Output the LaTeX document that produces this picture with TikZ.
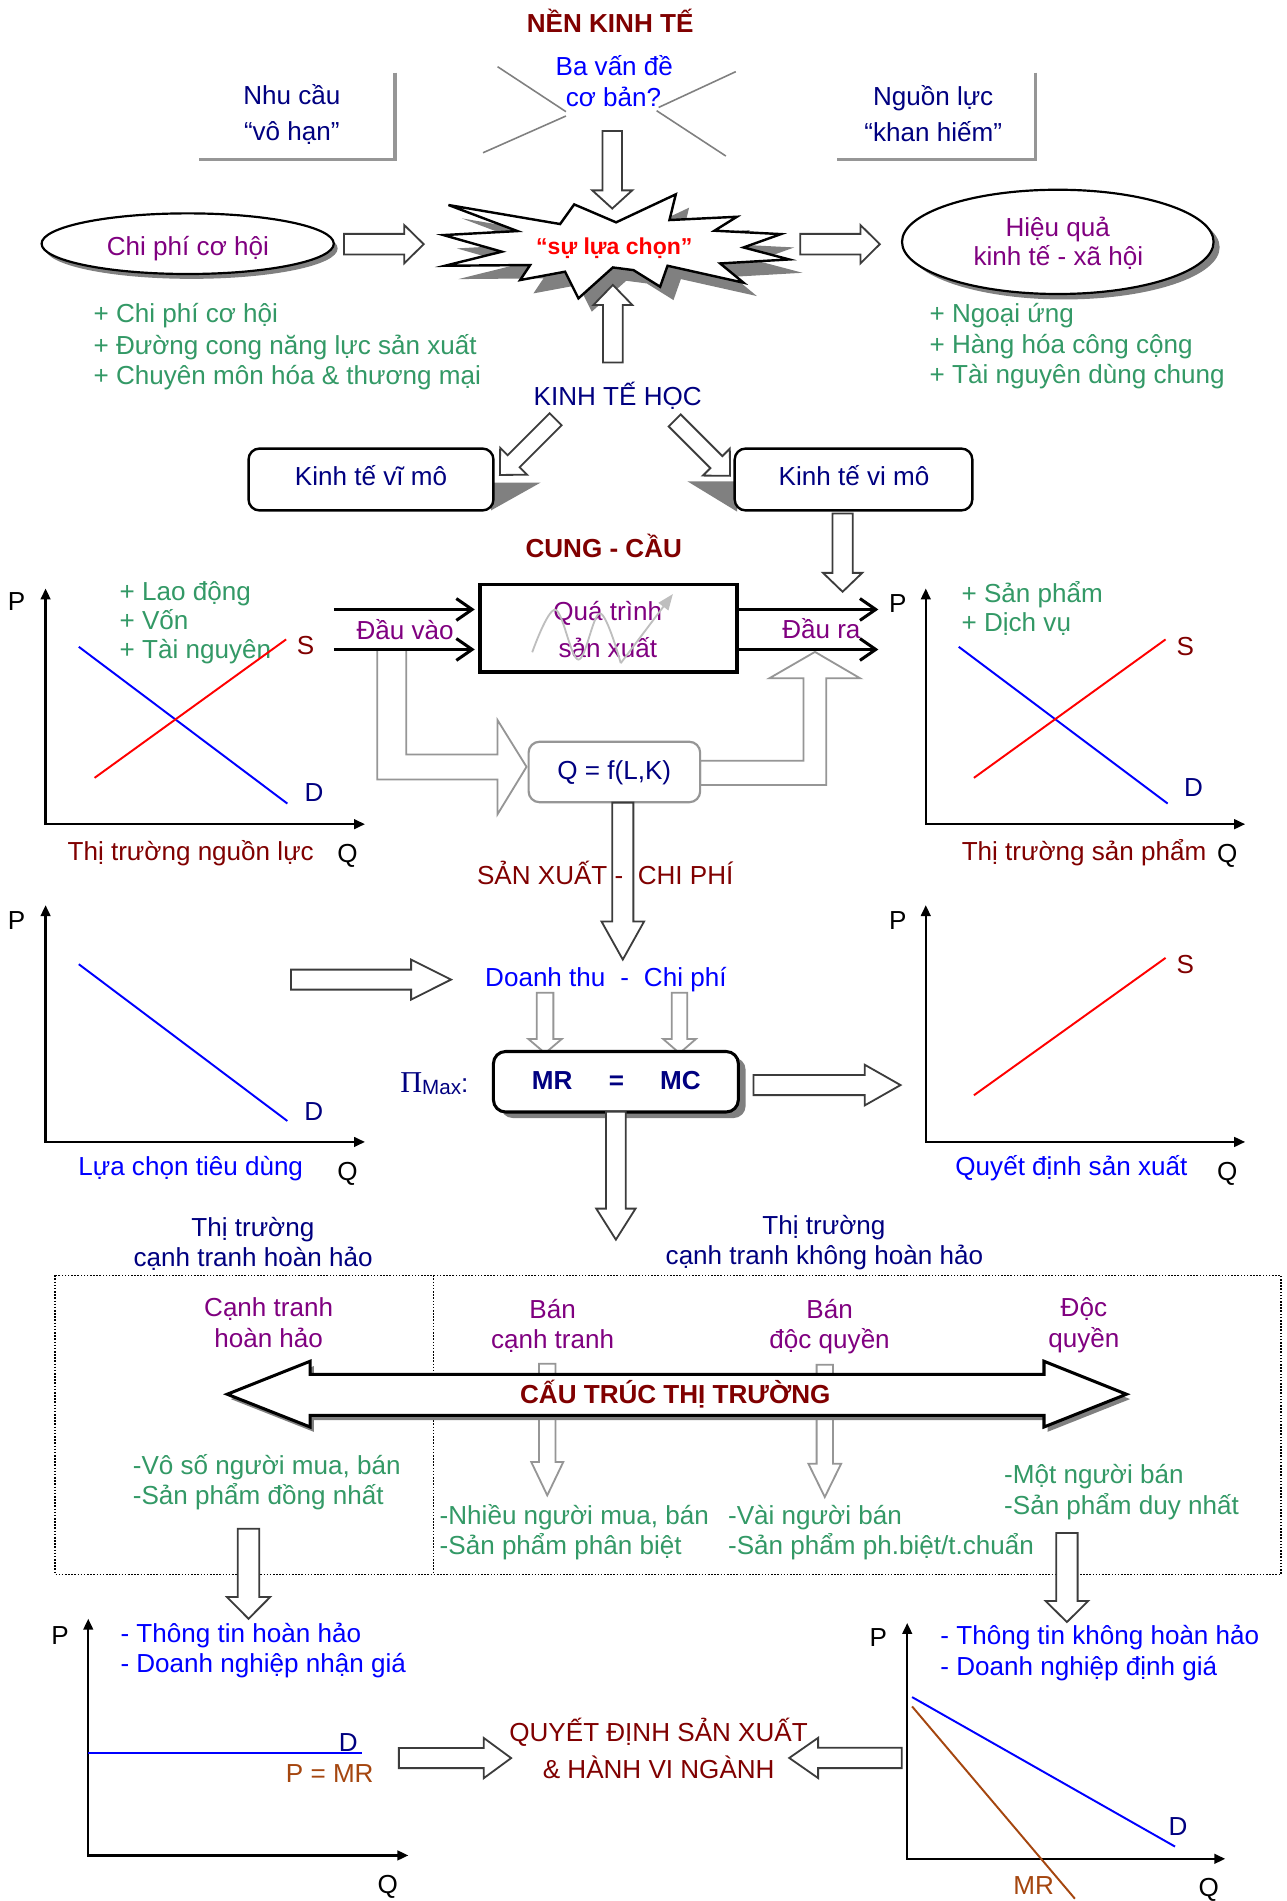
\documentclass[tikz,border=0pt]{standalone}
\usepackage{fontspec}
\setmainfont{Liberation Sans}
\newfontfamily\seriff{Liberation Serif}
\usetikzlibrary{arrows.meta}
\definecolor{navy}{RGB}{0,0,128}
\definecolor{tblue}{RGB}{0,0,255}
\definecolor{purp}{RGB}{128,0,128}
\definecolor{dred}{RGB}{128,0,0}
\definecolor{tgreen}{RGB}{51,153,102}
\definecolor{brn}{RGB}{165,70,15}
\definecolor{shd}{RGB}{128,128,128}
\definecolor{dgr}{RGB}{60,60,60}
\definecolor{lgr}{RGB}{150,150,150}
\definecolor{vlgr}{RGB}{190,190,190}
\newcommand\fs{\fontsize{21.5}{25}\selectfont}
% #1 style, #2 start, #3 angle, #4 length, #5 shaft half width, #6 head half width, #7 head length
\newcommand\barrow[7]{\begin{scope}[shift={#2},rotate=#3]\path[#1] (0,-#5) -- ({#4-#7},-#5) -- ({#4-#7},-#6) -- (#4,0) -- ({#4-#7},#6) -- ({#4-#7},#5) -- (0,#5) -- cycle;\end{scope}}
\newcommand\starshape[1]{\path[#1] (369.9,169.1) -- (462,184.8) -- (473.6,168.6) -- (508.2,183.4) -- (557.4,160.3) -- (552.2,181.5) -- (607.8,178.8) -- (589.3,190.3) -- (644.1,193.1) -- (613.3,204.1) -- (650.9,214) -- (594,217.3) -- (613.3,233.2) -- (550.6,219.2) -- (544.5,236.5) -- (522.5,222.8) -- (505.5,220.6) -- (477.1,246.1) -- (466.1,224.1) -- (429,231) -- (437.3,218.6) -- (367.1,219.2) -- (413.9,207.6) -- (365.8,193.9) -- (426.8,190.6) -- cycle;}
\newcommand\dblarrow[1]{\path[#1] (187.4,1150) -- (255.8,1122.8) -- (255.8,1133.6) -- (861.1,1133.6) -- (861.1,1122.8) -- (929.1,1150) -- (861.1,1177) -- (861.1,1167.4) -- (255.8,1167.4) -- (255.8,1177) -- cycle;}
\begin{document}
\begin{tikzpicture}[x=1pt,y=-1pt,
 txt/.style={inner sep=0pt, anchor=base, yshift=-7.5pt, font=\fs},
 txtl/.style={txt, anchor=base west},
 darr/.style={draw=dgr, fill=white, line width=1.5pt, line join=miter},
 garr/.style={draw=lgr, fill=white, line width=1.5pt, line join=miter},
 axs/.style={line width=1.8pt, line join=miter, {Triangle[length=9pt,width=8pt]}-{Triangle[length=9pt,width=8pt]}},
 linearr/.style={line width=2.5pt, -{Straight Barb[length=13pt,width=18pt]}},
 curveD/.style={tblue, line width=1.6pt},
 curveS/.style={red, line width=1.6pt},
 rbox/.style={draw=black, fill=white, line width=2pt, rounded corners=9pt},
 dotbox/.style={line width=1.3pt, dash pattern=on 1.3pt off 1.3pt},
]
\useasboundingbox (0,0) rectangle (1061,1568);
\fill[white] (0,0) rectangle (1061,1568);

% ---------- top ----------
\node[txt, font=\fs\bfseries, text=dred] (nenkt) at (503.3,19.3) {NỀN KINH TẾ};
\node[txt, text=tblue] (ba1) at (506.7,55) {Ba vấn đề};
\node[txt, text=tblue] (ba2) at (506,80.3) {cơ bản?};
\draw[shd, line width=1.3pt] (410.4,55) -- (466.8,92.1) (466.8,95.7) -- (398.4,126);
\draw[shd, line width=1.3pt] (606.9,59.1) -- (543.3,88.6) (541.6,91.3) -- (598.7,128.7);
\node[txt, text=navy] (nc1) at (240.7,78.4) {Nhu cầu};
\node[txt, text=navy] (nc2) at (240.7,108.6) {“vô hạn”};
\draw[lgr, line width=3pt] (326,60) -- (326,131.5) -- (164,131.5);
\node[txt, text=navy] (nl1) at (769.7,79.2) {Nguồn lực};
\node[txt, text=navy] (nl2) at (769.7,109.5) {“khan hiếm”};
\draw[lgr, line width=3pt] (854,60) -- (854,131.5) -- (690,131.5);

% starburst
\starshape{fill=shd, shift={(11,11)}}
\starshape{draw=black, fill=white, line width=2pt, line join=miter}
\node[inner sep=0pt, anchor=base, font=\fontsize{19}{21}\selectfont\bfseries, text=red] (choice) at (506.7,210.2) {“sự lựa chọn”};
\barrow{darr}{(505,108)}{-90}{64}{8}{16.5}{15}
\barrow{darr}{(505.5,299)}{90}{64}{8.2}{16}{16.5}

% ellipses
\fill[shd] (158,205) ellipse [x radius=120.5, y radius=25];
\draw[line width=1.8pt, fill=white] (154.8,201) ellipse [x radius=120.5, y radius=25];
\node[txt, text=purp] (cpch) at (155,203) {Chi phí cơ hội};
\fill[shd] (877.5,204) ellipse [x radius=128.5, y radius=43];
\draw[line width=1.8pt, fill=white] (872.5,199.5) ellipse [x radius=128.5, y radius=43];
\node[txt, text=purp] (hq1) at (872.5,187.8) {Hiệu quả};
\node[txt, text=purp] (hq2) at (873,211.7) {kinh tế - xã hội};
\barrow{darr}{(283.8,201.4)}{0}{65.7}{8.5}{15.8}{16.1}
\barrow{darr}{(660,201.4)}{0}{65.7}{8.5}{15.8}{16}

\node[txtl, text=tgreen] (l1) at (77,258.5) {+ Chi phí cơ hội};
\node[txtl, text=tgreen] (l2) at (77,284.6) {+ Đường cong năng lực sản xuất};
\node[txtl, text=tgreen] (l3) at (77,309.4) {+ Chuyên môn hóa \& thương mại};
\node[txtl, text=tgreen] (r1) at (766.6,258.5) {+ Ngoại ứng};
\node[txtl, text=tgreen] (r2) at (766.6,284.2) {+ Hàng hóa công cộng};
\node[txtl, text=tgreen] (r3) at (766.6,308.9) {+ Tài nguyên dùng chung};

% ---------- kinh te hoc ----------
\node[txt, text=navy] (kth) at (509.5,327) {KINH TẾ HỌC};
\barrow{darr}{(458.3,345.8)}{-135}{65}{7}{15.7}{16}
\barrow{darr}{(556.5,346.8)}{-45}{64.6}{7}{15.7}{16}
\fill[shd] (405,398) -- (446,398) -- (405,421) -- cycle;
\fill[shd] (567,397) -- (608,397) -- (608,422) -- cycle;
\draw[rbox] (205,370) rectangle (407,421);
\node[txt, text=navy] (vimac) at (306,393.3) {Kinh tế vĩ mô};
\draw[rbox] (606,370) rectangle (802,421);
\node[txt, text=navy] (vimic) at (704.4,393.3) {Kinh tế vi mô};
\barrow{darr}{(695,423.5)}{-90}{64.6}{8.3}{16.2}{15.6}
\node[txt, font=\fs\bfseries, text=dred] (cungcau) at (498,452) {CUNG - CẦU};

% ---------- resource market graph ----------
\node[txtl, text=tgreen] (ld1) at (98.5,488) {+ Lao động};
\node[txtl, text=tgreen] (ld2) at (98.5,512) {+ Vốn};
\node[txtl, text=tgreen] (ld3) at (98.5,536) {+ Tài nguyên};
\draw[axs] (37.6,485.4) -- (37.6,679.8) -- (301,679.8);
\draw[curveD] (65,533.5) -- (237,662.8);
\draw[curveS] (78,641.6) -- (236,527.4);
\node[txt] (p1) at (13.7,496.4) {P};
\node[txt] (q1) at (286.6,704) {Q};
\node[txt, text=dred] (s1) at (252,532) {S};
\node[txt, text=navy] (d1) at (259,654) {D};
\node[txt, text=dred] (tt1) at (157.3,702.6) {Thị trường nguồn lực};

% ---------- product market graph ----------
\node[txtl, text=tgreen] (sp1) at (793,489.5) {+ Sản phẩm};
\node[txtl, text=tgreen] (sp2) at (793,513.7) {+ Dịch vụ};
\draw[axs] (763.6,485.4) -- (763.6,679.8) -- (1027,679.8);
\draw[curveD] (790.8,533.5) -- (963.1,662.8);
\draw[curveS] (803.3,641.6) -- (961.4,527.4);
\node[txt] (p2) at (740.5,497.8) {P};
\node[txt] (q2) at (1012.3,704) {Q};
\node[txt, text=dred] (s2) at (977.6,533) {S};
\node[txt, text=navy] (d2) at (984.5,649.8) {D};
\node[txt, text=dred] (tt2) at (894.2,702.6) {Thị trường sản phẩm};

% ---------- production ----------
\draw[garr] (311.2,535.7) -- (335.1,535.7) -- (335.1,622.3) -- (410.4,622.3) -- (410.4,594) -- (434.3,632.5) -- (410.4,671.6) -- (410.4,643) -- (311.2,643) -- cycle;
\draw[garr] (577.5,627.5) -- (662.8,627.5) -- (662.8,559.5) -- (634.5,559.5) -- (672.2,537.7) -- (709.5,559.5) -- (681.5,559.5) -- (681.5,647.5) -- (577.5,647.5) -- cycle;
\draw[line width=3pt, fill=white] (396,482) rectangle (607.8,554.5);
\node[txt, text=purp] (qt1) at (501.3,504.6) {Quá trình};
\node[txt, text=purp] (qt2) at (501.3,534.9) {sản xuất};
\draw[vlgr, line width=1.5pt] plot[smooth, tension=0.6] coordinates {(439,538) (458,503) (477,544) (495,506) (512,547)};
\draw[vlgr, line width=1.5pt, -{Triangle[length=13pt,width=10pt]}] (512,547) -- (555,490);
\draw[linearr] (275.3,502.7) -- (391.6,502.7);
\draw[linearr] (275.3,535.7) -- (391.6,535.7);
\draw[linearr] (607.8,502.7) -- (724.5,502.7);
\draw[linearr] (607.8,535.7) -- (724.5,535.7);
\node[txt, text=purp] (dv) at (334.2,519.8) {Đầu vào};
\node[txt, text=purp] (dr) at (677.5,519.2) {Đầu ra};
\draw[draw=lgr, fill=white, line width=1.8pt, rounded corners=9pt] (436,611.8) rectangle (577.5,661.7);
\node[txt, text=navy] (qf) at (506.7,635.3) {Q = f(L,K)};

\barrow{darr}{(513.7,662)}{-90}{129.5}{8.7}{17.6}{31.5}
\node[txtl, text=dred] (sxcp) at (393.3,722) {SẢN XUẤT -\ \ CHI PHÍ};

% ---------- consumer graph ----------
\draw[axs] (37.6,746.6) -- (37.6,941.9) -- (301,941.9);
\draw[curveD] (65,795.3) -- (237,924.6);
\node[txt, text=navy] (d3) at (258.9,916.3) {D};
\node[txt] (p3) at (13.7,759) {P};
\node[txt] (q3) at (286.6,966.6) {Q};
\node[txt, text=tblue] (lctd) at (157.3,962) {Lựa chọn tiêu dùng};

% ---------- producer graph ----------
\draw[axs] (763.6,746.6) -- (763.6,941.9) -- (1027,941.9);
\draw[curveS] (803.3,903.4) -- (961.4,790.1);
\node[txt, text=dred] (s4) at (977.6,795.3) {S};
\node[txt] (p4) at (740.5,759) {P};
\node[txt] (q4) at (1012.3,966.6) {Q};
\node[txt, text=tblue] (qdsx) at (883.7,962) {Quyết định sản xuất};

% ---------- revenue / cost ----------
\node[txtl, text=tblue] (dtcp) at (400,806) {Doanh thu\hspace{12.3pt}-\hspace{12.3pt}Chi phí};
\barrow{garr}{(449.6,818.8)}{-90}{49.9}{6.85}{13.75}{11.7}
\barrow{garr}{(560.5,818.8)}{-90}{49.9}{6.4}{13.5}{11.7}
\fill[shd, rounded corners=10pt] (413,872.3) rectangle (615,922.2);
\draw[rbox, line width=2.5pt, rounded corners=10pt] (407,867.3) rectangle (609,917.2);
\node[txt, font=\fs\bfseries, text=navy] (mr) at (455.5,890.8) {MR};
\node[txt, font=\fs\bfseries, text=navy] (eq) at (508.5,890.8) {=};
\node[txt, font=\fs\bfseries, text=navy] (mc) at (561.3,890.8) {MC};
\node[inner sep=0pt, anchor=base west, text=navy] (pimax) at (330,901) {{\seriff\fontsize{25}{25}\selectfont Π}{\fontsize{17}{17}\selectfont\raisebox{-2pt}{Max}}{\fs:}};
\barrow{darr}{(240,808)}{0}{132}{8.25}{16.5}{32.9}
\barrow{darr}{(621.5,895)}{0}{121.3}{8.3}{16.8}{29.6}
\barrow{darr}{(508,917)}{-90}{105.5}{8.2}{16.2}{25.6}

% ---------- market structure ----------
\node[txt, text=navy] (tth1) at (208.6,1012) {Thị trường};
\node[txt, text=navy] (tth2) at (208.8,1036.8) {cạnh tranh hoàn hảo};
\node[txt, text=navy] (ttk1) at (679.6,1010.6) {Thị trường};
\node[txt, text=navy] (ttk2) at (680,1035.4) {cạnh tranh không hoàn hảo};
\draw[dotbox] (45.5,1051.9) rectangle (1056.6,1298.6);
\draw[dotbox] (357.4,1051.9) -- (357.4,1298.6);
\node[txt, text=purp] (ct1) at (221.6,1078.6) {Cạnh tranh};
\node[txt, text=purp] (ct2) at (221.6,1104.2) {hoàn hảo};
\node[txt, text=purp] (bc1) at (455.8,1080.2) {Bán};
\node[txt, text=purp] (bc2) at (455.8,1105) {cạnh tranh};
\node[txt, text=purp] (bd1) at (684.3,1080) {Bán};
\node[txt, text=purp] (bd2) at (684.3,1105) {độc quyền};
\node[txt, text=purp] (dq1) at (894,1078.6) {Độc};
\node[txt, text=purp] (dq2) at (894,1104.2) {quyền};
\barrow{garr}{(451.4,1124.8)}{-90}{108.6}{6.8}{13.2}{27.5}
\barrow{garr}{(680.3,1125.6)}{-90}{109.2}{6.75}{13.5}{27.5}
\dblarrow{fill=shd, shift={(3,4)}}
\dblarrow{draw=black, fill=white, line width=2.5pt, line join=miter}
\node[txt, font=\fs\bfseries, text=dred] (cttt) at (557,1150) {CẤU TRÚC THỊ TRƯỜNG};
\node[txtl, text=tgreen] (g1) at (109.4,1208.6) {-Vô số người mua, bán};
\node[txtl, text=tgreen] (g2) at (109.4,1233.4) {-Sản phẩm đồng nhất};
\node[txtl, text=tgreen] (g3) at (362.5,1249.9) {-Nhiều người mua, bán};
\node[txtl, text=tgreen] (g4) at (362.5,1274.6) {-Sản phẩm phân biệt};
\node[txtl, text=tgreen] (g5) at (600.4,1249.9) {-Vài người bán};
\node[txtl, text=tgreen] (g6) at (600.4,1274.6) {-Sản phẩm ph.biệt/t.chuẩn};
\node[txtl, text=tgreen] (g7) at (828.1,1216.1) {-Một người bán};
\node[txtl, text=tgreen] (g8) at (828.1,1241.6) {-Sản phẩm duy nhất};
\barrow{darr}{(205,1261)}{-90}{74.2}{8.9}{17.8}{17.9}
\barrow{darr}{(880,1264.5)}{-90}{73.4}{8.85}{17.5}{17.3}

% ---------- bottom left graph ----------
\draw[axs] (72.8,1335.2) -- (72.8,1530.4) -- (336.8,1530.4);
\draw[curveD] (72.8,1446) -- (298.2,1446);
\node[txt, text=navy] (d5) at (287.3,1437.4) {D};
\node[txt, text=brn] (pmr) at (272,1463) {P = MR};
\node[txt] (p5) at (49.6,1348.9) {P};
\node[txt] (q5) at (319.8,1554.3) {Q};
\node[txtl, text=tblue] (th1) at (99.2,1347.5) {- Thông tin hoàn hảo};
\node[txtl, text=tblue] (th2) at (99.2,1371.7) {- Doanh nghiệp nhận giá};

% ---------- bottom right graph ----------
\draw[axs] (748.3,1338.7) -- (748.3,1533.2) -- (1010.6,1533.2);
\draw[curveD] (752.3,1399.8) -- (969.2,1523.1);
\draw[brn, line width=1.6pt] (752.3,1407.5) -- (886.6,1566.1);
\node[txt, text=navy] (d6) at (971.6,1506.5) {D};
\node[txt, text=brn] (mr6) at (852.6,1555.5) {MR};
\node[txt] (p6) at (724.5,1350.8) {P};
\node[txt] (q6) at (997.1,1557) {Q};
\node[txtl, text=tblue] (tk1) at (775.5,1348.9) {- Thông tin không hoàn hảo};
\node[txtl, text=tblue] (tk2) at (775.5,1374.4) {- Doanh nghiệp định giá};

% ---------- center bottom ----------
\node[txt, text=dred] (qd1) at (543.2,1428.6) {QUYẾT ĐỊNH SẢN XUẤT};
\node[txt, text=dred] (qd2) at (543.3,1459.7) {\& HÀNH VI NGÀNH};
\barrow{darr}{(329,1450.1)}{0}{92.6}{8.3}{16.6}{22.6}
\barrow{darr}{(743.8,1450)}{180}{92.8}{8.4}{16.6}{23.8}
\end{tikzpicture}
\end{document}
